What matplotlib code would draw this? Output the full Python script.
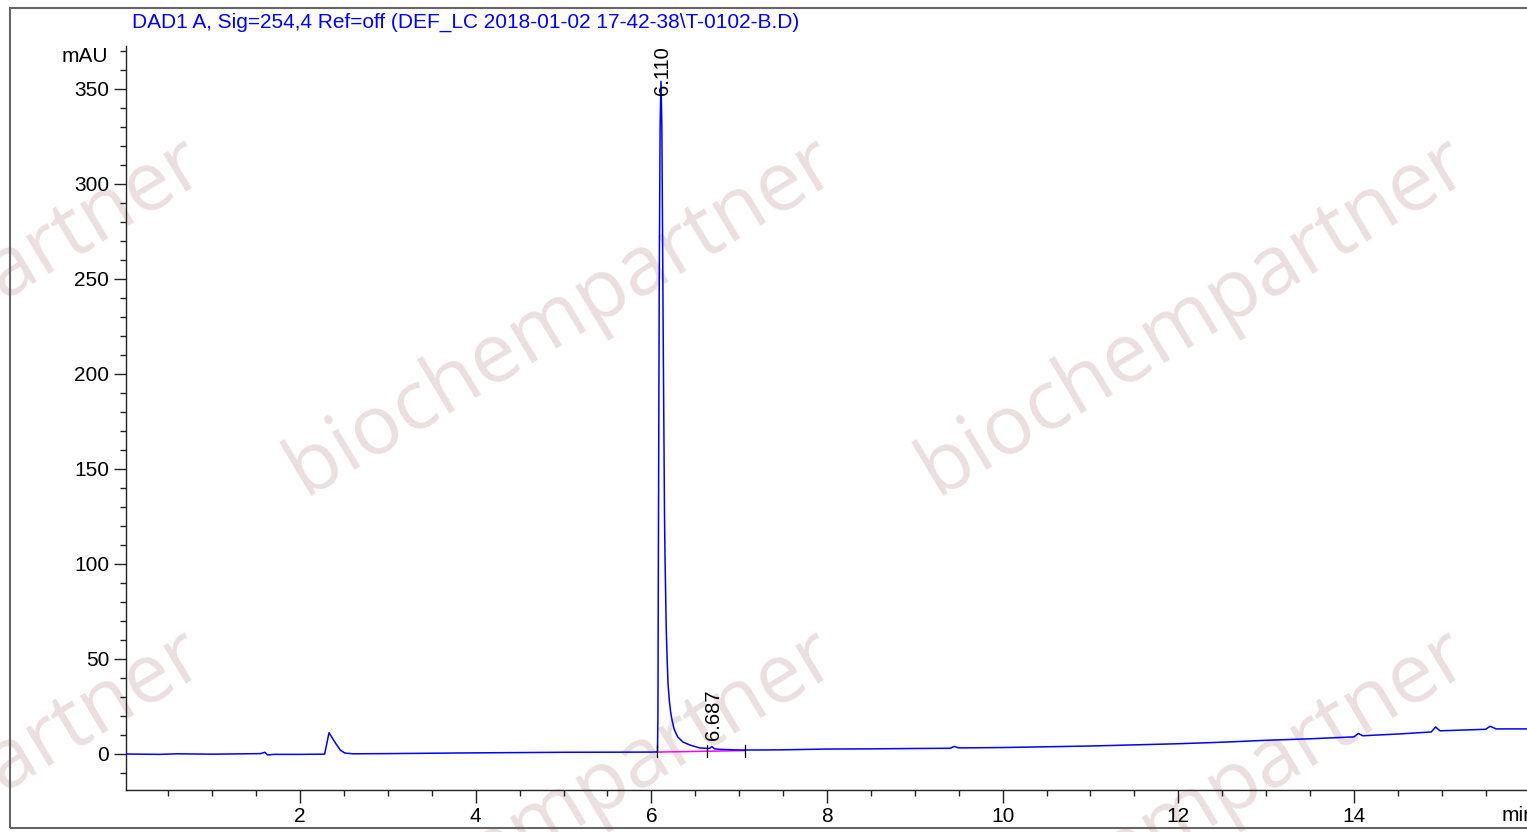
import matplotlib
matplotlib.use("Agg")
import matplotlib.pyplot as plt
from matplotlib.patches import Rectangle
from matplotlib.ticker import MultipleLocator, FixedLocator

# ---- data ----
time_min = [0.00, 0.40, 0.60, 1.00, 1.55, 1.60, 1.63, 1.70, 2.00, 2.28, 2.33, 2.40, 2.46, 2.51,
            2.60, 3.00, 4.00, 5.00, 6.00, 6.07, 6.075, 6.08, 6.09, 6.100, 6.110, 6.120, 6.135,
            6.150, 6.156, 6.17, 6.18, 6.19, 6.205, 6.22, 6.235, 6.26, 6.30, 6.36, 6.44, 6.55,
            6.62, 6.66, 6.69, 6.72, 6.80, 7.00,
            7.20, 7.50, 8.00, 8.50, 9.00, 9.40, 9.45, 9.50, 10.00, 11.00, 12.00, 12.50, 13.00,
            13.50, 14.00, 14.05, 14.10, 14.50, 14.88, 14.93, 14.98, 15.50, 15.55, 15.62, 16.00]
signal_mau = [0.0, -0.2, 0.1, -0.1, 0.2, 0.9, -0.5, -0.2, -0.2, -0.1, 11.2, 6.0, 2.0, 0.5,
              0.1, 0.2, 0.6, 0.9, 1.0, 1.1, 20.0, 100.0, 250.0, 330.0, 354.0, 330.0, 220.0,
              125.0, 103.0, 65.0, 50.0, 37.0, 28.0, 22.0, 18.0, 13.0, 9.0, 6.3, 4.7, 3.2,
              3.0, 2.9, 3.9, 2.7, 2.4, 2.1,
              2.1, 2.2, 2.6, 2.7, 2.9, 3.0, 4.0, 3.2, 3.4, 4.2, 5.4, 6.2, 7.2,
              8.0, 9.0, 10.8, 9.6, 10.5, 11.6, 14.2, 12.2, 13.0, 14.6, 13.2, 13.2]

peak_times = [6.110, 6.687]
peak_labels = ["6.110", "6.687"]
peak_label_y = [347.0, 7.4]

baseline_t = [6.06, 7.07]
baseline_y = [1.0, 1.8]
event_marks_t = [6.06, 6.63, 7.07]

title = "DAD1 A, Sig=254,4 Ref=off (DEF_LC 2018-01-02 17-42-38\\T-0102-B.D)"
xmajor = [2, 4, 6, 8, 10, 12, 14]
ymajor = [0, 50, 100, 150, 200, 250, 300, 350]

W, H = 1527, 832
fig = plt.figure(figsize=(W / 100, H / 100), dpi=100)
fig.patch.set_facecolor("white")
plt.rcParams["font.family"] = ["Liberation Sans", "DejaVu Sans"]

# watermark
wm_color = "#ecdfdf"
for cx in (-70, 562, 1194):
    for cy in (317, 809):
        fig.text(cx / W, 1 - cy / H, "biochempartner", fontsize=59.5, family="Open Sans",
                 color=wm_color, rotation=31, ha="center", va="center",
                 rotation_mode="anchor", zorder=0)

# outer frame
fig.add_artist(Rectangle((10 / W, 1 - 828 / H), (W + 20) / W, 820 / H,
                         transform=fig.transFigure, fill=False, edgecolor="#666666",
                         linewidth=1.5, zorder=1))

ax_left = 125.7 / W
ax_right = 1529.6 / W
ax_bottom = 1 - 790 / H
ax_top = 1 - 46 / H
ax = fig.add_axes([ax_left, ax_bottom, ax_right - ax_left, ax_top - ax_bottom])
ax.patch.set_visible(False)
ax.set_zorder(2)

ax.plot(time_min, signal_mau, color="#0000ff", linewidth=1.1, zorder=3)
ax.plot(baseline_t, baseline_y, color="#ff00ff", linewidth=1.1, zorder=2)
for t in event_marks_t:
    ax.plot([t, t], [-1.5, 4.5], color="black", linewidth=0.9, zorder=4)

for t, lab, yl in zip(peak_times, peak_labels, peak_label_y):
    ax.text(t + 0.02, yl, lab, rotation=90, ha="center", va="bottom", fontsize=14.5,
            color="black", zorder=5)

ax.set_xlim(0.015, 16.0)
ax.set_ylim(-18.95, 372.6)

for s in ("top", "right"):
    ax.spines[s].set_visible(False)
for s in ("left", "bottom"):
    ax.spines[s].set_linewidth(1.0)
    ax.spines[s].set_color("#222222")

ax.xaxis.set_major_locator(FixedLocator(xmajor))
ax.xaxis.set_minor_locator(MultipleLocator(0.5))
ax.yaxis.set_major_locator(FixedLocator(ymajor))
ax.yaxis.set_minor_locator(MultipleLocator(10))
ax.tick_params(axis="both", which="major", direction="out", length=9, width=1.0,
               labelsize=15, pad=3, color="#222222")
ax.tick_params(axis="both", which="minor", direction="out", length=4.5, width=1.0,
               color="#222222")

ax.annotate("mAU", xy=(0, 367), xycoords=("axes fraction", "data"),
            xytext=(-18, 0), textcoords="offset pixels", ha="right", va="center",
            fontsize=15)
ax.annotate("min", xy=(15.68, 0), xycoords=("data", "axes fraction"),
            xytext=(0, -16), textcoords="offset pixels", ha="left", va="top",
            fontsize=15, annotation_clip=False)

fig.text(132 / W, 1 - 22 / H, title, color="#0000ff", fontsize=15,
         ha="left", va="center")

fig.savefig("out.png", dpi=100)
